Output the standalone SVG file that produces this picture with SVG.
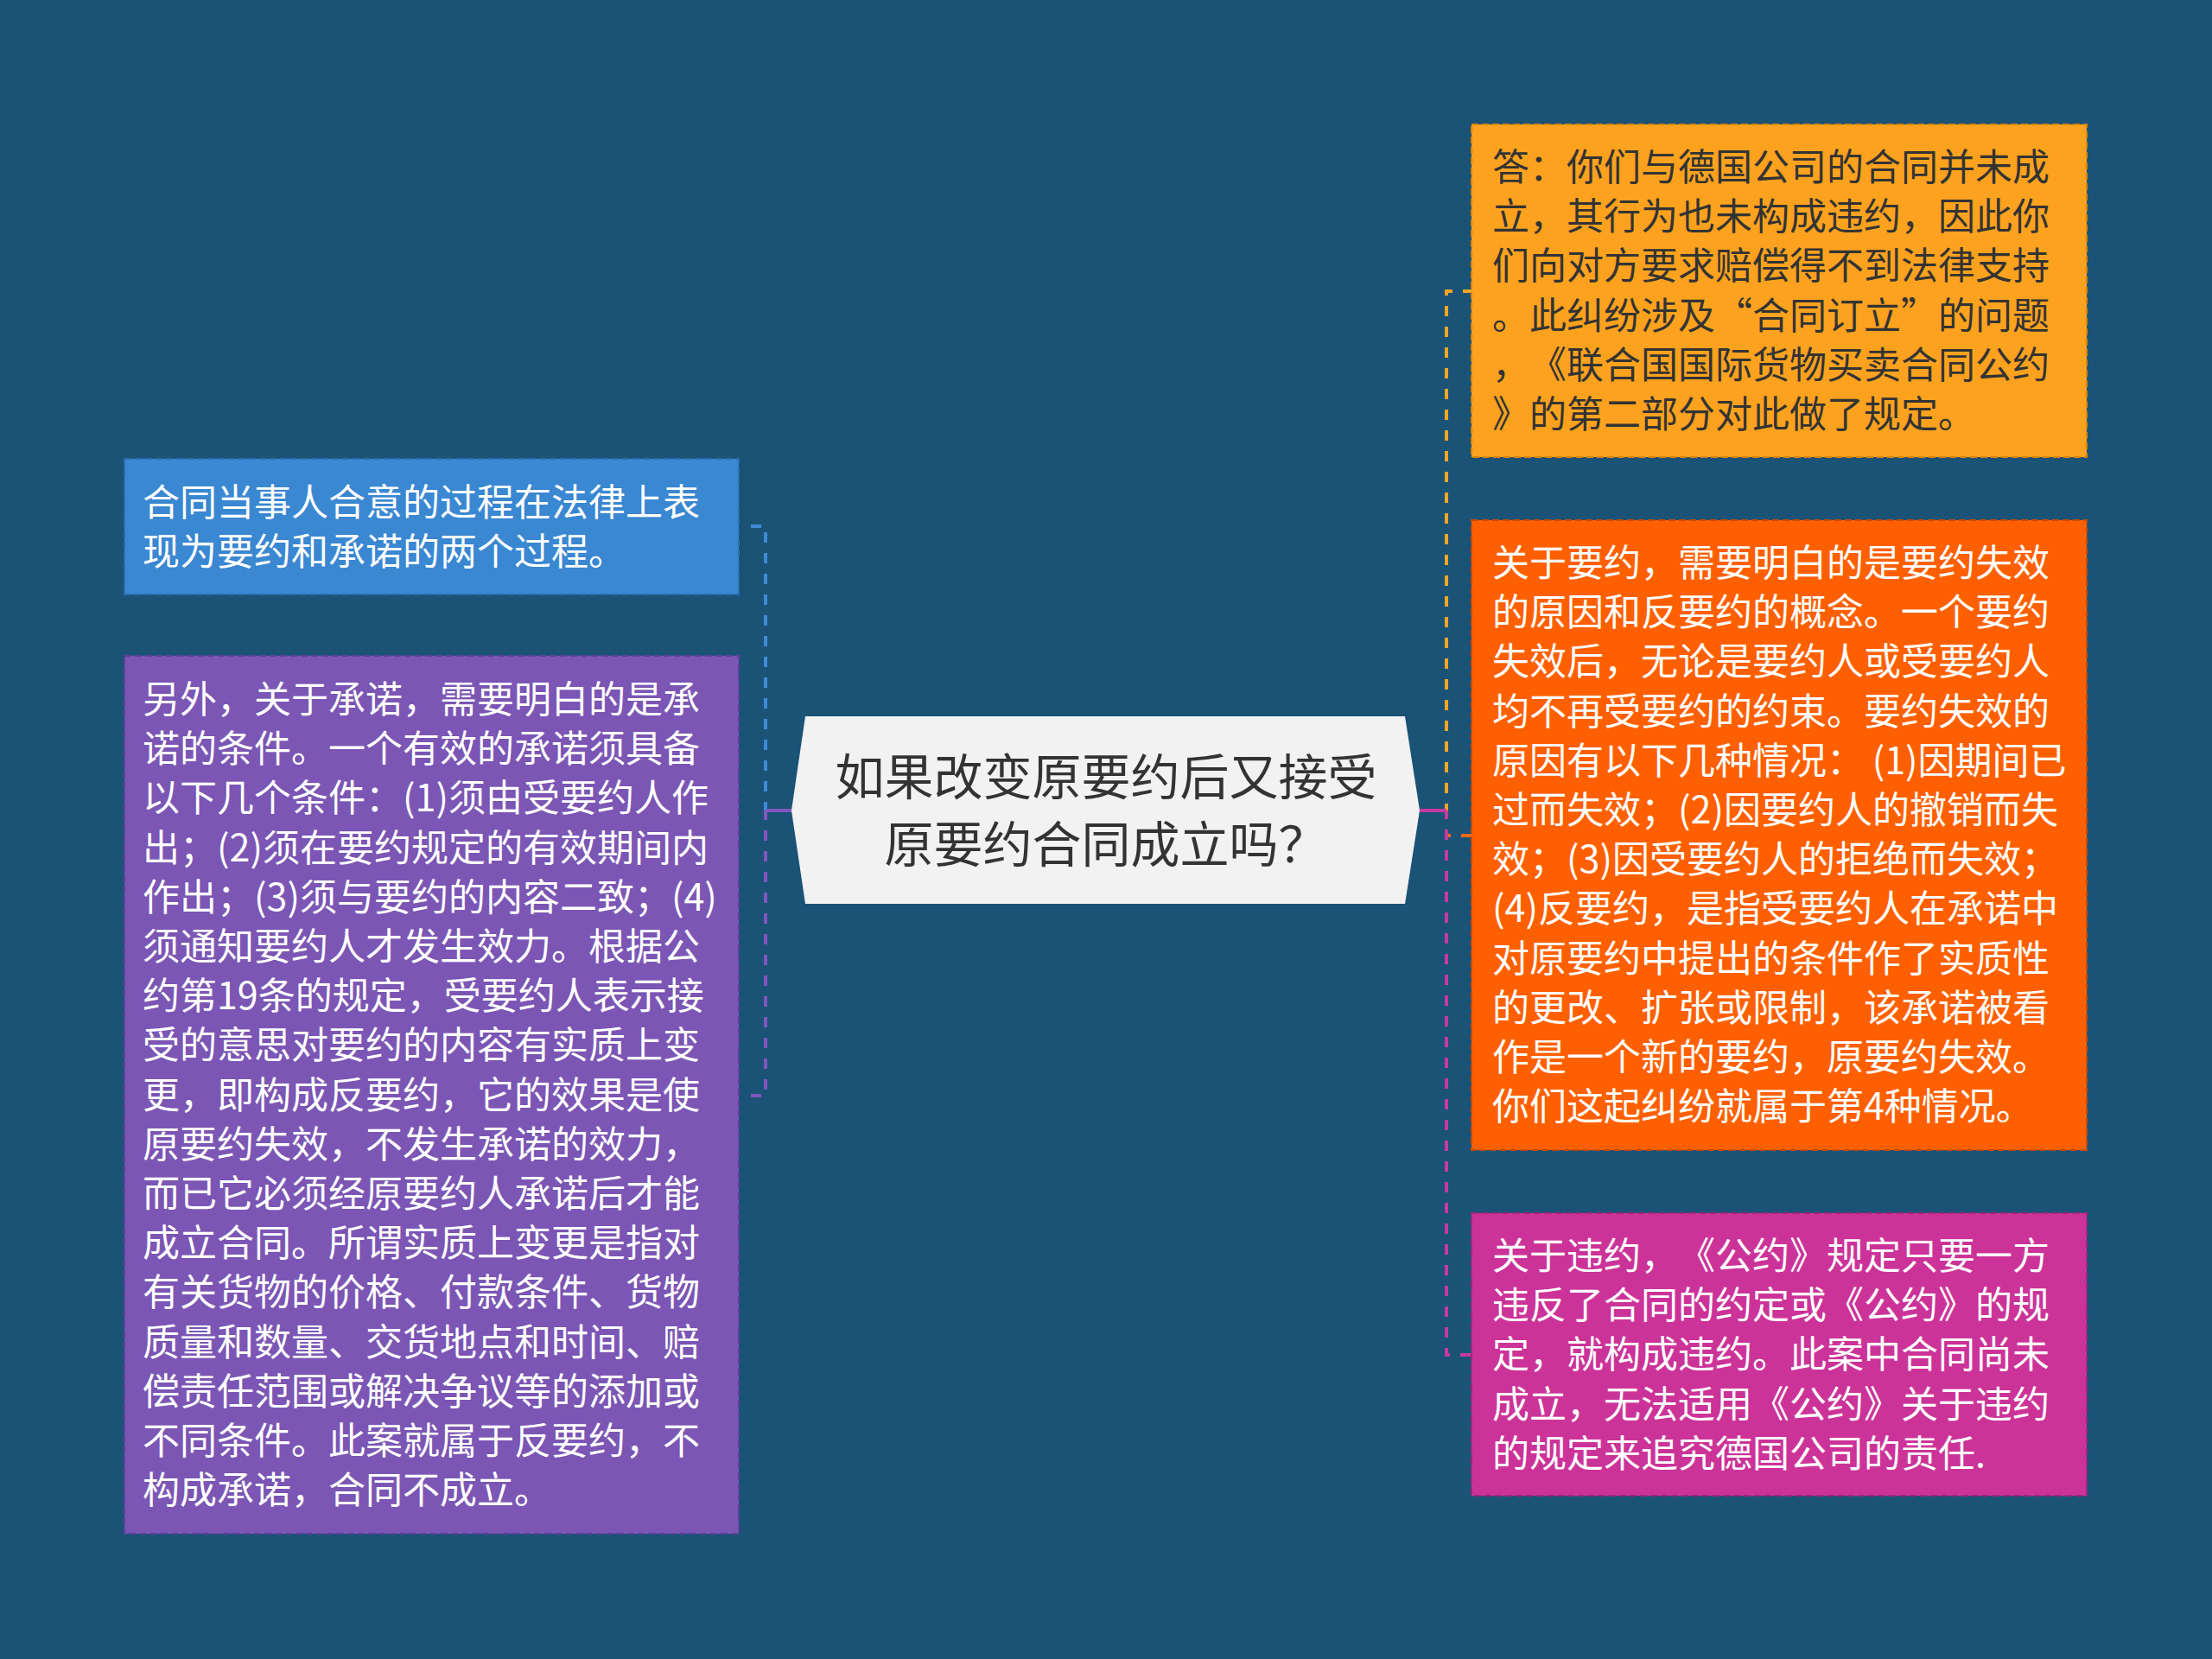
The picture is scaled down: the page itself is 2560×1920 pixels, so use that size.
<svg xmlns="http://www.w3.org/2000/svg" width="2560" height="1920" viewBox="0 0 2560 1920">
<style>
.t{font-family:"Noto Sans CJK SC","Noto Sans",sans-serif;font-size:43px;text-spacing-trim:space-all;font-kerning:none}
.w{fill:#ffffff}
.d{fill:#333333}
.box{stroke-width:2;stroke-dasharray:8 4}
.conn{fill:none;stroke-width:4;stroke-dasharray:12 12}
.solid{fill:none;stroke-width:4}
</style>
<rect x="0" y="0" width="2560" height="1920" fill="#1b5377"/>
<g id="connectors">
<path class="conn" d="M869 609 H886 V950" stroke="#3e8cd6"/>
<path class="conn" d="M869 1268 H886 V938" stroke="#8256bd"/>
<path class="solid" d="M886 938 H916" stroke="#8256bd"/>
<path class="conn" d="M1705 337 H1674 V940" stroke="#f5a623"/>
<path class="conn" d="M1703 967 H1674 V938" stroke="#f26a1b"/>
<path class="conn" d="M1702 1568 H1674 V938" stroke="#c6399f"/>
<path class="solid" d="M1674 938 H1643" stroke="#c6399f"/>
</g>
<g id="center">
<polygon points="932,829 1626,829 1643,938 1626,1046 932,1046 916,938" fill="#f2f2f2"/>
<text class="t d" x="1280" y="920" text-anchor="middle" style="font-size:57px">如果改变原要约后又接受</text>
<text class="t d" x="1280" y="998" text-anchor="middle" style="font-size:57px">原要约合同成立吗？</text>
</g>
<g id="node-blue">
<rect class="box" x="144" y="531" width="711" height="157" fill="#3a87d2" stroke="#2a6eb0"/>
<text class="t w" x="165" y="597">合同当事人合意的过程在法律上表<tspan x="165" dy="57.2">现为要约和承诺的两个过程。</tspan></text>
</g>
<g id="node-purple">
<rect class="box" x="144" y="759" width="711" height="1016" fill="#7b56b4" stroke="#5e3f96"/>
<text class="t w" x="165" y="825">另外，关于承诺，需要明白的是承<tspan x="165" dy="57.2">诺的条件。一个有效的承诺须具备</tspan><tspan x="165" dy="57.2">以下几个条件：(1)须由受要约人作</tspan><tspan x="165" dy="57.2">出；(2)须在要约规定的有效期间内</tspan><tspan x="165" dy="57.2">作出；(3)须与要约的内容二致；(4)</tspan><tspan x="165" dy="57.2">须通知要约人才发生效力。根据公</tspan><tspan x="165" dy="57.2">约第19条的规定，受要约人表示接</tspan><tspan x="165" dy="57.2">受的意思对要约的内容有实质上变</tspan><tspan x="165" dy="57.2">更，即构成反要约，它的效果是使</tspan><tspan x="165" dy="57.2">原要约失效，不发生承诺的效力，</tspan><tspan x="165" dy="57.2">而已它必须经原要约人承诺后才能</tspan><tspan x="165" dy="57.2">成立合同。所谓实质上变更是指对</tspan><tspan x="165" dy="57.2">有关货物的价格、付款条件、货物</tspan><tspan x="165" dy="57.2">质量和数量、交货地点和时间、赔</tspan><tspan x="165" dy="57.2">偿责任范围或解决争议等的添加或</tspan><tspan x="165" dy="57.2">不同条件。此案就属于反要约，不</tspan><tspan x="165" dy="57.2">构成承诺，合同不成立。</tspan></text>
</g>
<g id="node-orange">
<rect class="box" x="1703" y="144" width="712" height="385" fill="#fca21f" stroke="#d98300"/>
<text class="t d" x="1727" y="209">答：你们与德国公司的合同并未成<tspan x="1727" dy="57.2">立，其行为也未构成违约，因此你</tspan><tspan x="1727" dy="57.2">们向对方要求赔偿得不到法律支持</tspan><tspan x="1727" dy="57.2">。此纠纷涉及“合同订立”的问题</tspan><tspan x="1727" dy="57.2">，《联合国国际货物买卖合同公约</tspan><tspan x="1727" dy="57.2">》的第二部分对此做了规定。</tspan></text>
</g>
<g id="node-orangered">
<rect class="box" x="1703" y="602" width="712" height="729" fill="#fe6001" stroke="#c94a00"/>
<text class="t w" x="1727" y="667">关于要约，需要明白的是要约失效<tspan x="1727" dy="57.2">的原因和反要约的概念。一个要约</tspan><tspan x="1727" dy="57.2">失效后，无论是要约人或受要约人</tspan><tspan x="1727" dy="57.2">均不再受要约的约束。要约失效的</tspan><tspan x="1727" dy="57.2">原因有以下几种情况： (1)因期间已</tspan><tspan x="1727" dy="57.2">过而失效；(2)因要约人的撤销而失</tspan><tspan x="1727" dy="57.2">效；(3)因受要约人的拒绝而失效；</tspan><tspan x="1727" dy="57.2">(4)反要约，是指受要约人在承诺中</tspan><tspan x="1727" dy="57.2">对原要约中提出的条件作了实质性</tspan><tspan x="1727" dy="57.2">的更改、扩张或限制，该承诺被看</tspan><tspan x="1727" dy="57.2">作是一个新的要约，原要约失效。</tspan><tspan x="1727" dy="57.2">你们这起纠纷就属于第4种情况。</tspan></text>
</g>
<g id="node-magenta">
<rect class="box" x="1703" y="1404" width="712" height="327" fill="#cc3399" stroke="#a2237a"/>
<text class="t w" x="1727" y="1469">关于违约，《公约》规定只要一方<tspan x="1727" dy="57.2">违反了合同的约定或《公约》的规</tspan><tspan x="1727" dy="57.2">定，就构成违约。此案中合同尚未</tspan><tspan x="1727" dy="57.2">成立，无法适用《公约》关于违约</tspan><tspan x="1727" dy="57.2">的规定来追究德国公司的责任.</tspan></text>
</g>
</svg>
